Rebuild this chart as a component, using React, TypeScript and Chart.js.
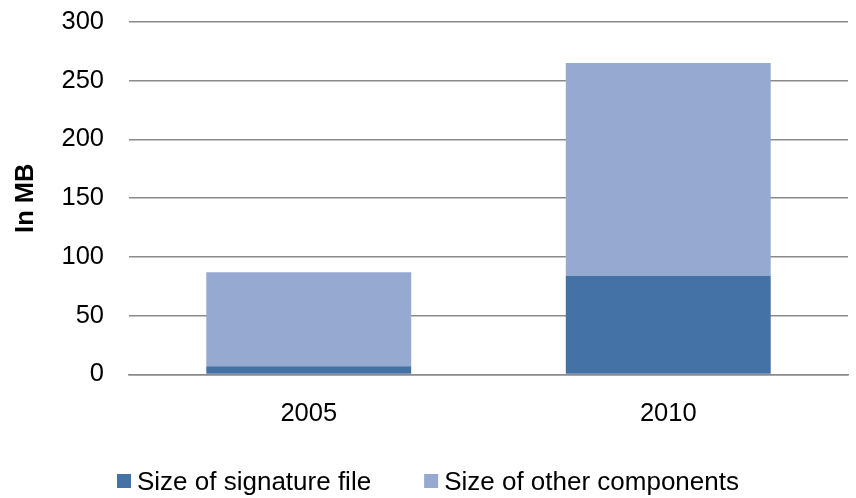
import React, { useEffect, useRef } from "react";
import { Chart, registerables } from "chart.js";

Chart.register(...registerables);

const categories = ["2005", "2010"];
const signatureSizes = [7, 84];
const otherSizes = [80, 181];
const seriesLabels = ["Size of signature file", "Size of other components"];
const seriesColors = ["#4472A7", "#95A9D1"];
const yTicks = [0, 50, 100, 150, 200, 250, 300];

const FONT = "'Liberation Sans', Arial, sans-serif";

const legendPlugin = {
  id: "customLegend",
  afterDraw(chart: any) {
    const ctx = chart.ctx;
    const ds = chart.data.datasets;
    ctx.save();
    ctx.font = `26px ${FONT}`;
    ctx.textBaseline = "alphabetic";
    ctx.textAlign = "left";
    let x = 117;
    const boxTop = 474;
    const box = 14;
    const baseline = 490;
    ds.forEach((d: any) => {
      ctx.fillStyle = d.backgroundColor;
      ctx.fillRect(x, boxTop, box, box);
      const tx = x + box + 6;
      ctx.fillStyle = "#000";
      ctx.fillText(d.label, tx, baseline);
      const w = ctx.measureText(d.label).width;
      x = tx + w + 53;
    });
    ctx.restore();
  },
};

export default function App() {
  const ref = useRef<HTMLCanvasElement>(null);
  useEffect(() => {
    document.body.style.margin = "0";
    const canvas = ref.current!;
    const chart = new Chart(canvas, {
      type: "bar",
      data: {
        labels: categories,
        datasets: [
          {
            label: seriesLabels[0],
            data: signatureSizes,
            backgroundColor: seriesColors[0],
            categoryPercentage: 1,
            barPercentage: 0.57,
          },
          {
            label: seriesLabels[1],
            data: otherSizes,
            backgroundColor: seriesColors[1],
            categoryPercentage: 1,
            barPercentage: 0.57,
          },
        ],
      },
      options: {
        responsive: false,
        animation: false,
        layout: { padding: { top: 22, right: 8, bottom: 44, left: 0 } },
        plugins: {
          legend: { display: false },
          tooltip: { enabled: false },
        },
        scales: {
          x: {
            stacked: true,
            grid: { display: false, drawTicks: false },
            border: { display: true, color: "#8a8a8a", width: 1.5 },
            ticks: {
              color: "#000",
              font: { family: FONT, size: 25.5 },
              padding: 24.5,
            },
            afterFit: (s: any) => {
              s.paddingLeft = 0;
              s.paddingRight = 0;
            },
          },
          y: {
            stacked: true,
            min: 0,
            max: 300,
            afterBuildTicks: (s: any) => {
              s.ticks = yTicks.map((v) => ({ value: v }));
            },
            afterFit: (s: any) => {
              s.width = 129;
              s.paddingTop = 0;
              s.paddingBottom = 0;
            },
            grid: { color: "#8a8a8a", lineWidth: 1.5, drawTicks: false },
            border: { display: false },
            ticks: {
              color: "#000",
              font: { family: FONT, size: 25.5 },
              padding: 25,
            },
            title: {
              display: true,
              text: "In MB",
              color: "#000",
              font: { family: FONT, size: 25.5, weight: "bold" },
              padding: { top: 11, bottom: 0 },
            },
          },
        },
      },
      plugins: [legendPlugin],
    });
    return () => chart.destroy();
  }, []);
  return (
    <div style={{ width: 856, height: 498 }}>
      <canvas ref={ref} width={856} height={498} />
    </div>
  );
}
